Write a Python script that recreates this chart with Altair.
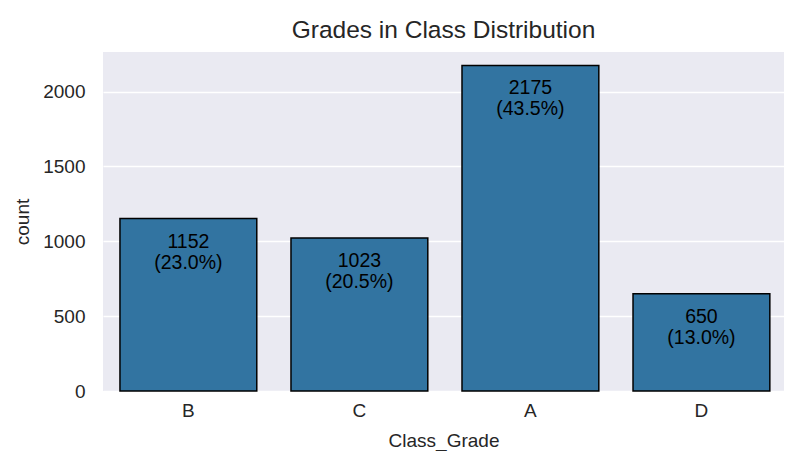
import pandas as pd
import altair as alt

grades = ["B", "C", "A", "D"]
counts = [1152, 1023, 2175, 650]
shares = [23.0, 20.5, 43.5, 13.0]

df = pd.DataFrame({"Class_Grade": grades, "count": counts, "share": shares})
df["label"] = [[str(c), f"({s:.1f}%)"] for c, s in zip(counts, shares)]

font = "Liberation Sans"

x = alt.X("Class_Grade:N", sort=grades, title="Class_Grade",
          scale=alt.Scale(paddingInner=0.2, paddingOuter=0.091, align=0.545),
          axis=alt.Axis(labelAngle=0, ticks=False, domain=False, grid=False,
                        labelPadding=10, titlePadding=11))
y = alt.Y("count:Q", title="count",
          scale=alt.Scale(domain=[0, 2265], nice=False),
          axis=alt.Axis(values=[0, 500, 1000, 1500, 2000], format="d", ticks=False,
                        domain=False, gridColor="white", gridWidth=1.5, labelPadding=18,
                        titlePadding=10))

bars = alt.Chart(df).mark_bar(color="#3274A1", stroke="black", strokeWidth=1.5).encode(
    x=x, y=y
)

labels = alt.Chart(df).mark_text(
    baseline="top", dy=14, fontSize=19.5, lineHeight=21, color="black", font=font
).encode(
    x=alt.X("Class_Grade:N", sort=grades),
    y="count:Q",
    text="label",
)

chart = (
    (bars + labels)
    .properties(
        width=681, height=339,
        title=alt.TitleParams("Grades in Class Distribution", fontSize=24.5,
                              fontWeight="normal", color="#262626", font=font,
                              anchor="middle", offset=9),
        padding={"left": 95, "top": 44, "right": 0, "bottom": 60},
        autosize=alt.AutoSizeParams(type="none"),
    )
    .configure_view(fill="#EAEAF2", stroke=None)
    .configure_axis(labelFont=font, titleFont=font, labelFontSize=19, titleFontSize=19,
                    labelColor="#262626", titleColor="#262626", titleFontWeight="normal")
)

chart.save("out.html", embed_options={"renderer": "svg", "actions": False})
